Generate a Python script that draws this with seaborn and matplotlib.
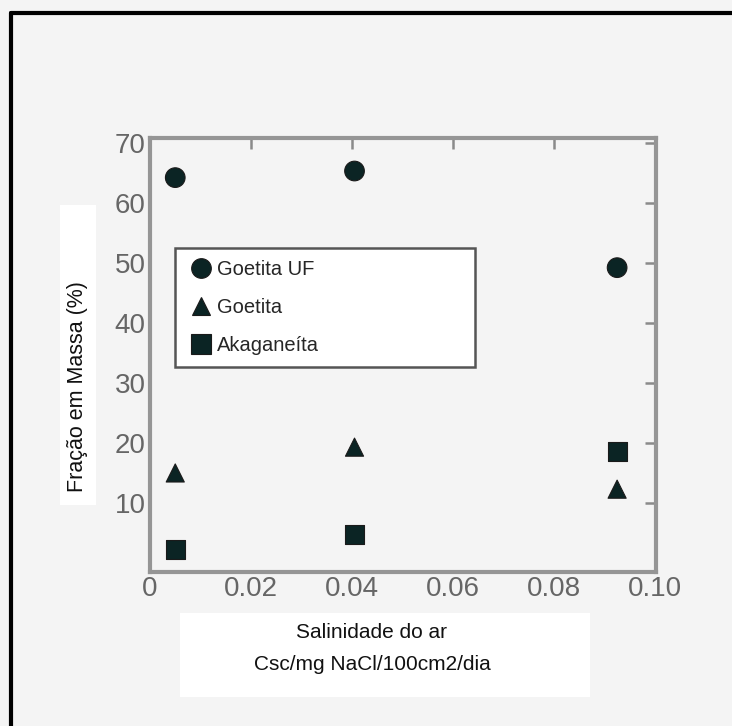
import pandas as pd
import numpy as np
import matplotlib
matplotlib.use("Agg")
import matplotlib.pyplot as plt
import seaborn as sns
from matplotlib.patches import Rectangle

# Values
salinity = [0.005, 0.0405, 0.0925]
goetita_uf = [64.2, 65.3, 49.2]
goetita = [15.0, 19.3, 12.3]
akaganeita = [2.3, 4.7, 18.6]

series_names = ["Goetita UF", "Goetita", "Akaganeíta"]
x_ticks = [0, 0.02, 0.04, 0.06, 0.08, 0.10]
x_labels = ["0", "0.02", "0.04", "0.06", "0.08", "0.10"]
y_ticks = [10, 20, 30, 40, 50, 60, 70]

df = pd.DataFrame({
    "Salinidade": salinity * 3,
    "Fracao": goetita_uf + goetita + akaganeita,
    "Fase": np.repeat(series_names, len(salinity)),
})

sns.set_style("white")
plt.rcParams["font.family"] = ["Liberation Sans", "DejaVu Sans"]

bg = "#f4f4f4"
W, H = 732, 726
fig = plt.figure(figsize=(7.32, 7.26), dpi=100, facecolor=bg)
ax = fig.add_axes([150 / W, 1 - 572 / H, 506 / W, 434 / H])
ax.set_facecolor(bg)

ink = "#0b2424"
sns.scatterplot(data=df, x="Salinidade", y="Fracao", style="Fase", size="Fase",
                markers={"Goetita UF": "o", "Goetita": "^", "Akaganeíta": "s"},
                sizes={"Goetita UF": 200, "Goetita": 170, "Akaganeíta": 190},
                color=ink, edgecolor="#1a1a1a", linewidth=0.8, ax=ax, zorder=3)

ax.set_xlim(0, 0.1002)
ax.set_ylim(-1.5, 70.8)
ax.set_xticks(x_ticks)
ax.set_xticklabels(x_labels)
ax.set_yticks(y_ticks)
ax.tick_params(axis="both", direction="in", length=8, width=1.8, color="#8a8a8a",
               labelsize=20, labelcolor="#666666", top=True, right=True, pad=3)
for lab in ax.get_xticklabels() + ax.get_yticklabels():
    lab.set_family(["Liberation Sans Narrow", "Liberation Sans"])
for sp in ax.spines.values():
    sp.set_color("#959595")
    sp.set_linewidth(3)
ax.set_xlabel("")
ax.set_ylabel("")

leg = ax.legend(loc="upper left",
                bbox_to_anchor=(175 / W, 1 - 248 / H, 300 / W, 0),
                bbox_transform=fig.transFigure, mode="expand",
                frameon=True, fontsize=14.5, labelspacing=0.95,
                handletextpad=0.1, handlelength=1.4, borderpad=0.6,
                borderaxespad=0, fancybox=False)
frame = leg.get_frame()
frame.set_edgecolor("#555555")
frame.set_linewidth(1.8)
frame.set_facecolor("white")
frame.set_alpha(1)

# white patches behind the axis titles, as in the scan
fig.patches.append(Rectangle((180 / W, 1 - 697 / H), 410 / W, 84 / H,
                             transform=fig.transFigure, facecolor="white",
                             edgecolor="none", zorder=0))
fig.patches.append(Rectangle((60 / W, 1 - 505 / H), 36 / W, 300 / H,
                             transform=fig.transFigure, facecolor="white",
                             edgecolor="none", zorder=0))

fig.text(372 / W, 1 - 632 / H, "Salinidade do ar", ha="center", va="center",
         fontsize=15, color="#111111")
fig.text(372 / W, 1 - 665 / H, "Csc/mg NaCl/100cm2/dia", ha="center",
         va="center", fontsize=15, color="#111111")
fig.text(77 / W, 1 - 387 / H, "Fração em Massa (%)", rotation=90,
         ha="center", va="center", fontsize=15.5, color="#111111")

# black frame on the left and top edges of the scan
fig.add_artist(plt.Line2D([11 / W, 11 / W], [0, 1 - 13 / H], color="black",
                          lw=3, transform=fig.transFigure))
fig.add_artist(plt.Line2D([11 / W, 1], [1 - 13 / H, 1 - 13 / H],
                          color="black", lw=3, transform=fig.transFigure))

fig.savefig("out.png", dpi=100, facecolor=bg)
